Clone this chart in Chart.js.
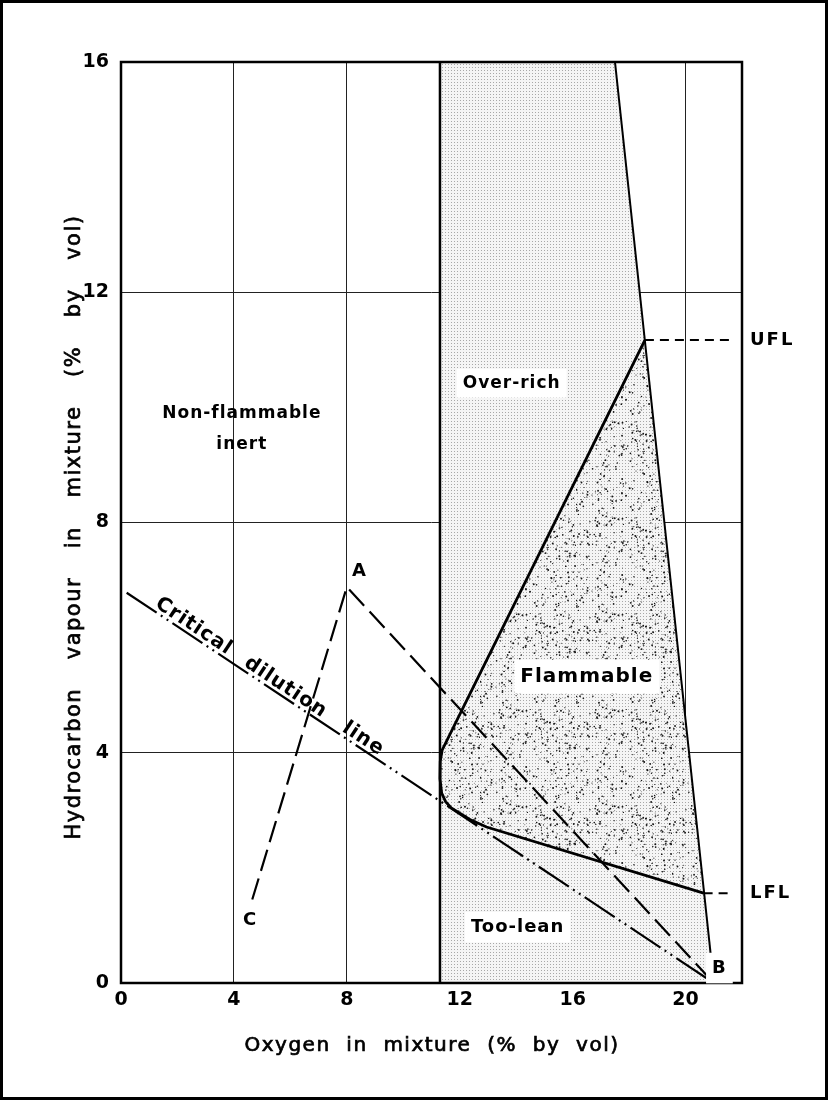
<!DOCTYPE html>
<html>
<head>
<meta charset="utf-8">
<script src="https://cdn.jsdelivr.net/npm/chart.js@4/dist/chart.umd.min.js"></script>
<style>
  html, body { margin: 0; padding: 0; background: #fff; }
  canvas { display: block; }
</style>
</head>
<body>
<canvas id="chart" width="828" height="1100"></canvas>
<script>
// axis ticks (% by vol)
const xTicks = [0, 4, 8, 12, 16, 20];
const yTicks = [0, 4, 8, 12, 16];

// limiting oxygen line and the air line (dilution of HC with air)
const o2LimitX = [11.3, 11.3];
const o2LimitY = [0, 16];
const airLineX = [17.5, 21.0];
const airLineY = [16, 0];

// over-rich / too-lean band between the two lines
const bandX = [11.3, 11.3, 17.5, 21.0];
const bandY = [0, 16, 16, 0];

// flammable envelope: UFL -> nose -> LFL
const envX = [18.56, 11.38, 11.31, 11.3, 11.36, 11.5, 11.7, 11.93, 12.4, 12.95, 20.64];
const envY = [11.17, 4.05, 3.85, 3.55, 3.3, 3.15, 3.04, 2.97, 2.83, 2.71, 1.56];

// critical dilution line
const cdlX = [0.2, 21.0];
const cdlY = [6.78, 0];

// dilution path C -> A -> B
const pathX = [4.65, 8.0, 21.0];
const pathY = [1.45, 6.88, 0];

// flammability limits, extended to the right margin
const ufl = 11.17;
const lfl = 1.56;
const limitEndX = 21.66;

// light half-tone for the band
function halftone() {
  const c = document.createElement('canvas');
  c.width = 3; c.height = 3;
  const g = c.getContext('2d');
  g.fillStyle = '#f5f5f5';
  g.fillRect(0, 0, 3, 3);
  g.fillStyle = '#a8a8a8';
  g.fillRect(1, 1, 1, 1);
  return g.createPattern(c, 'repeat');
}

// scattered black speckle for the flammable zone
function speckle() {
  const c = document.createElement('canvas');
  c.width = 96; c.height = 96;
  const g = c.getContext('2d');
  g.fillStyle = halftone();
  g.fillRect(0, 0, 96, 96);
  let s = 12345;
  const rnd = () => { s = (s * 1103515245 + 12345) % 2147483648; return s / 2147483648; };
  g.fillStyle = '#151515';
  for (let i = 0; i < 330; i++) {
    const px = rnd() * 96, py = rnd() * 96, r = 0.45 + rnd() * 0.55;
    g.beginPath();
    g.arc(px, py, r, 0, Math.PI * 2);
    g.fill();
  }
  return g.createPattern(c, 'repeat');
}

const pts = (xs, ys) => xs.map((v, i) => ({ x: v, y: ys[i] }));
const FONT = "'DejaVu Sans', 'Liberation Sans', sans-serif";

const annotate = {
  id: 'annotate',
  afterDraw(chart) {
    const { ctx, chartArea: a, scales: { x, y } } = chart;
    ctx.save();

    // plot frame
    ctx.strokeStyle = '#000';
    ctx.lineWidth = 2.5;
    ctx.strokeRect(a.left, a.top, a.right - a.left, a.bottom - a.top);

    // region labels sitting on white patches
    const label = (text, vx, vy, size, box) => {
      ctx.font = `bold ${size}px ${FONT}`;
      ctx.letterSpacing = '1px';
      ctx.textAlign = 'center';
      ctx.textBaseline = 'middle';
      const px = x.getPixelForValue(vx), py = y.getPixelForValue(vy);
      if (box) {
        const w = ctx.measureText(text).width + 12;
        ctx.fillStyle = '#fff';
        ctx.fillRect(px - w / 2, py - size * 0.85, w, size * 1.7);
      }
      ctx.fillStyle = '#000';
      ctx.fillText(text, px, py);
    };
    label('Over-rich', 13.84, 10.42, 17, true);
    label('Flammable', 16.5, 5.32, 20, true);
    label('Too-lean', 14.05, 0.97, 18, true);
    label('Non-flammable', 4.28, 9.9, 17, false);
    label('inert', 4.28, 9.36, 17, false);
    label('A', 8.45, 7.15, 18, false);
    label('B', 21.2, 0.26, 18, true);
    label('C', 4.57, 1.09, 18, false);

    // UFL / LFL tags in the right margin
    ctx.font = `bold 18px ${FONT}`;
    ctx.letterSpacing = '2px';
    ctx.textAlign = 'left';
    ctx.textBaseline = 'middle';
    ctx.fillStyle = '#000';
    ctx.fillText('UFL', a.right + 8, y.getPixelForValue(ufl));
    ctx.fillText('LFL', a.right + 8, y.getPixelForValue(lfl));

    // words along the critical dilution line
    const x1 = x.getPixelForValue(cdlX[0]), y1 = y.getPixelForValue(cdlY[0]);
    const x2 = x.getPixelForValue(cdlX[1]), y2 = y.getPixelForValue(cdlY[1]);
    const ang = Math.atan2(y2 - y1, x2 - x1);
    ctx.font = `bold 20px ${FONT}`;
    ctx.letterSpacing = '1px';
    ctx.textAlign = 'center';
    ctx.textBaseline = 'alphabetic';
    [['Critical', 2.4], ['dilution', 5.65], ['line', 8.4]].forEach(([w, vx]) => {
      const t = (vx - cdlX[0]) / (cdlX[1] - cdlX[0]);
      const px = x1 + t * (x2 - x1), py = y1 + t * (y2 - y1);
      ctx.save();
      ctx.translate(px + Math.sin(ang) * 4, py - Math.cos(ang) * 4);
      ctx.rotate(ang);
      ctx.fillText(w, 0, 0);
      ctx.restore();
    });

    // axis titles: slightly heavy letters, wide gaps between words
    const spread = (text, size, target) => {
      ctx.font = `${size}px ${FONT}`;
      ctx.letterSpacing = '1.5px';
      ctx.wordSpacing = '0px';
      const w = ctx.measureText(text).width;
      const gaps = text.split(' ').length - 1;
      ctx.wordSpacing = Math.max(0, (target - w) / gaps).toFixed(2) + 'px';
    };
    const heavyText = (text, px, py) => {
      ctx.fillText(text, px, py);
      ctx.lineWidth = 0.7;
      ctx.strokeText(text, px, py);
    };
    ctx.fillStyle = '#000';
    ctx.strokeStyle = '#000';
    ctx.textAlign = 'center';
    ctx.textBaseline = 'middle';
    spread('Oxygen in mixture (% by vol)', 20, 375);
    heavyText('Oxygen in mixture (% by vol)', 432, 1046);
    ctx.save();
    ctx.translate(75, 527);
    ctx.rotate(-Math.PI / 2);
    spread('Hydrocarbon vapour in mixture (% by vol)', 21, 625);
    heavyText('Hydrocarbon vapour in mixture (% by vol)', 0, 0);
    ctx.restore();

    // page frame
    ctx.letterSpacing = '0px';
    ctx.wordSpacing = '0px';
    ctx.lineWidth = 3;
    ctx.strokeRect(1.5, 1.5, chart.width - 3, chart.height - 3);
    ctx.restore();
  }
};

const tickFont = { family: FONT, weight: 'bold', size: 19 };

new Chart(document.getElementById('chart'), {
  type: 'scatter',
  data: {
    datasets: [
      { data: pts(bandX, bandY), showLine: true, fill: 'shape', backgroundColor: halftone(), borderWidth: 0, pointRadius: 0, order: 10 },
      { data: pts(envX, envY), showLine: true, fill: 'shape', backgroundColor: speckle(), borderWidth: 0, pointRadius: 0, order: 9 },
      { data: pts(o2LimitX, o2LimitY), showLine: true, borderColor: '#000', borderWidth: 2.5, pointRadius: 0, order: 5 },
      { data: pts(airLineX, airLineY), showLine: true, borderColor: '#000', borderWidth: 2, pointRadius: 0, order: 5 },
      { data: pts(envX, envY), showLine: true, borderColor: '#000', borderWidth: 2.8, pointRadius: 0, order: 4 },
      { data: pts(cdlX, cdlY), showLine: true, borderColor: '#000', borderWidth: 2.2, borderDash: [36, 5, 2, 5, 2, 5], pointRadius: 0, order: 3 },
      { data: pts(pathX, pathY), showLine: true, borderColor: '#000', borderWidth: 2.2, borderDash: [22, 8], pointRadius: 0, order: 2 },
      { data: pts([envX[0], limitEndX], [ufl, ufl]), showLine: true, borderColor: '#000', borderWidth: 2, borderDash: [9, 6], pointRadius: 0, order: 1 },
      { data: pts([envX[envX.length - 1], limitEndX], [lfl, lfl]), showLine: true, borderColor: '#000', borderWidth: 2, borderDash: [9, 6], pointRadius: 0, order: 1 }
    ]
  },
  options: {
    responsive: false,
    animation: false,
    events: [],
    layout: { padding: { left: 0, right: 86, top: 62, bottom: 0 } },
    plugins: { legend: { display: false }, tooltip: { enabled: false } },
    scales: {
      x: {
        type: 'linear', min: 0, max: 22, z: 1,
        afterFit: s => { s.height = 117; },
        border: { display: false },
        grid: { color: '#222', lineWidth: 1, drawTicks: false },
        ticks: {
          stepSize: 4, padding: 6, color: '#000', font: tickFont,
          autoSkip: false, maxRotation: 0,
          callback: v => xTicks.includes(v) ? String(v) : ''
        }
      },
      y: {
        type: 'linear', min: 0, max: 16, z: 1,
        afterFit: s => { s.width = 121; },
        border: { display: false },
        grid: { color: '#222', lineWidth: 1, drawTicks: false },
        ticks: {
          stepSize: 4, padding: 12, color: '#000', font: tickFont,
          callback: v => yTicks.includes(v) ? String(v) : ''
        }
      }
    }
  },
  plugins: [annotate]
});
</script>
</body>
</html>
